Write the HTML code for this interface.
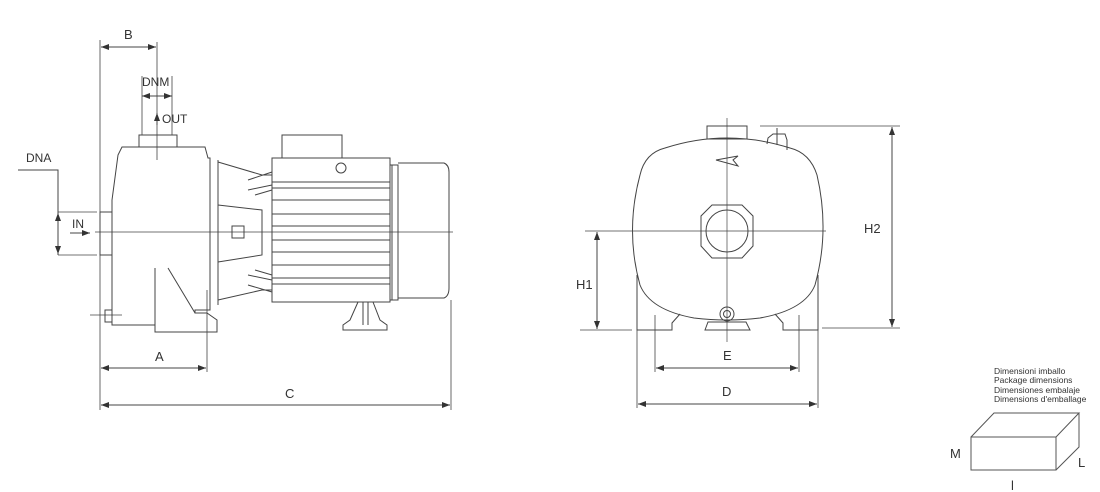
<!DOCTYPE html>
<html><head><meta charset="utf-8"><style>
html,body{margin:0;padding:0;background:#fff;}
svg{display:block;}
text{font-family:"Liberation Sans",sans-serif;fill:#333;}
</style></head><body>
<svg width="1100" height="492" viewBox="0 0 1100 492" xmlns="http://www.w3.org/2000/svg">
<defs>
<marker id="a" markerWidth="8" markerHeight="6" refX="8" refY="3" orient="auto-start-reverse" markerUnits="userSpaceOnUse"><path d="M0,0 L8,3 L0,6 z" fill="#333"/></marker>
</defs>
<g stroke="#444" stroke-width="1" fill="none">
<line x1="100" y1="40" x2="100" y2="410" stroke-width="0.8"/>
<line x1="157" y1="42" x2="157" y2="160" stroke-width="0.8"/>
<line x1="101" y1="47" x2="156" y2="47" marker-start="url(#a)" marker-end="url(#a)"/>
<line x1="142" y1="76" x2="142" y2="135" stroke-width="0.8"/>
<line x1="172" y1="76" x2="172" y2="135" stroke-width="0.8"/>
<line x1="142" y1="96" x2="172" y2="96" marker-start="url(#a)" marker-end="url(#a)"/>
<line x1="157" y1="125" x2="157" y2="113" marker-end="url(#a)"/>
<polyline points="18,170 58,170 58,255"/>
<line x1="58" y1="213" x2="58" y2="254" marker-start="url(#a)" marker-end="url(#a)"/>
<line x1="58" y1="212" x2="97" y2="212" stroke-width="0.8"/>
<line x1="58" y1="255" x2="97" y2="255" stroke-width="0.8"/>
<line x1="70" y1="233" x2="90" y2="233" marker-end="url(#a)"/>
<line x1="95" y1="232" x2="453" y2="232" stroke-width="0.7"/>
<line x1="207" y1="290" x2="207" y2="372" stroke-width="0.8"/>
<line x1="101" y1="368" x2="206" y2="368" marker-start="url(#a)" marker-end="url(#a)"/>
<line x1="451" y1="300" x2="451" y2="410" stroke-width="0.8"/>
<line x1="101" y1="405" x2="450" y2="405" marker-start="url(#a)" marker-end="url(#a)"/>
<rect x="139" y="135" width="38" height="12"/>
<path d="M122,147 L205,147 L208,158 L210,158 L210,310 L195,310 L195,313 L207,313 L217,320 L217,332 L155,332 L155,325 L112,325 L112,200 L118,155 Z"/>
<rect x="100" y="212" width="12" height="43"/>
<line x1="168" y1="268" x2="195" y2="313"/>
<line x1="155" y1="268" x2="155" y2="325"/>
<rect x="105" y="310" width="7" height="12"/>
<line x1="90" y1="315" x2="122" y2="315" stroke-width="0.7"/>
<line x1="218" y1="160" x2="218" y2="305"/>
<path d="M218,162 L262,175 L272,175 M218,300 L262,290 L272,290"/>
<path d="M218,205 L262,210 L262,255 L218,262"/>
<path d="M248,180 L272,172 M248,190 L272,185 M255,195 L272,190 M248,285 L272,292 M248,275 L272,280 M255,270 L272,275"/>
<rect x="232" y="226" width="12" height="12"/>
<rect x="282" y="135" width="60" height="23"/>
<rect x="272" y="158" width="118" height="144"/>
<circle cx="341" cy="168" r="5"/>
<path d="M272,182 H390 M272,188 H390 M272,200 H390 M272,214 H390 M272,226 H390 M272,240 H390 M272,252 H390 M272,265 H390 M272,278 H390 M272,284 H390"/>
<path d="M390,165 L398,165 L398,300 L390,300"/>
<line x1="392" y1="165" x2="392" y2="300"/>
<path d="M398,163 L444,163 Q449,165 449,172 L449,288 Q449,296 444,298 L398,298"/>
<path d="M358,302 L350,320 L343,325 L343,330 L387,330 L387,325 L380,320 L373,302"/>
<line x1="363" y1="302" x2="363" y2="325"/><line x1="368" y1="302" x2="368" y2="325"/>
<!-- RIGHT PUMP -->
<rect x="707" y="126" width="40" height="13"/>
<path d="M665,148 Q727,128 790,148 Q810,153 817,175 Q830,231 815,285 Q805,310 760,318 Q727,322 694,318 Q650,310 640,285 Q625,231 640,175 Q645,153 665,148 Z"/>
<path d="M637,275 L637,330 L672,330 L672,323 L680,314 M818,275 L818,330 L783,330 L783,323 L775,314"/>
<path d="M705,330 L708,322 L746,322 L750,330 Z"/>
<circle cx="727" cy="314" r="7"/><circle cx="727" cy="314" r="3.5"/>
<path d="M767,144 L768,138 L773,134 L785,134 L787,140 L787,150"/>
<line x1="777" y1="128" x2="777" y2="145"/>
<line x1="727" y1="118" x2="727" y2="342" stroke-width="0.7"/>
<line x1="585" y1="231" x2="826" y2="231" stroke-width="0.7"/>
<path d="M712,205 L742,205 L753,216 L753,246 L742,258 L712,258 L701,246 L701,216 Z"/>
<circle cx="727" cy="231" r="21"/>
<path d="M738,156 L716,160 L738,166 L733,160 Z"/>
<line x1="580" y1="330" x2="632" y2="330" stroke-width="0.8"/>
<line x1="597" y1="232" x2="597" y2="329" marker-start="url(#a)" marker-end="url(#a)"/>
<line x1="760" y1="126" x2="900" y2="126" stroke-width="0.8"/>
<line x1="822" y1="328" x2="900" y2="328" stroke-width="0.8"/>
<line x1="892" y1="127" x2="892" y2="327" marker-start="url(#a)" marker-end="url(#a)"/>
<line x1="655" y1="315" x2="655" y2="372" stroke-width="0.8"/>
<line x1="799" y1="315" x2="799" y2="372" stroke-width="0.8"/>
<line x1="656" y1="368" x2="798" y2="368" marker-start="url(#a)" marker-end="url(#a)"/>
<line x1="637" y1="330" x2="637" y2="408" stroke-width="0.8"/>
<line x1="818" y1="330" x2="818" y2="408" stroke-width="0.8"/>
<line x1="638" y1="404" x2="817" y2="404" marker-start="url(#a)" marker-end="url(#a)"/>
<g stroke="#555">
<rect x="971" y="437" width="85" height="33"/>
<path d="M971,437 L994,413 L1079,413 L1056,437 M1079,413 L1079,447 L1056,470"/>
</g>
</g>
<g font-size="13">
<text x="124" y="39">B</text>
<text x="142" y="86" font-size="12">DNM</text>
<text x="162" y="123" font-size="12">OUT</text>
<text x="26" y="162" font-size="12">DNA</text>
<text x="72" y="228" font-size="12">IN</text>
<text x="155" y="361">A</text>
<text x="285" y="398">C</text>
<text x="576" y="289">H1</text>
<text x="864" y="233">H2</text>
<text x="723" y="360">E</text>
<text x="722" y="396">D</text>
</g>
<g font-size="8.5" fill="#222">
<text x="994" y="374">Dimensioni imballo</text>
<text x="994" y="383">Package dimensions</text>
<text x="994" y="393">Dimensiones embalaje</text>
<text x="994" y="402">Dimensions d'emballage</text>
</g>
<text x="950" y="458" font-size="13" fill="#222">M</text>
<text x="1078" y="467" font-size="13" fill="#222">L</text>
<text x="1011" y="490" font-size="13" fill="#222">l</text>
</svg>
</body></html>
